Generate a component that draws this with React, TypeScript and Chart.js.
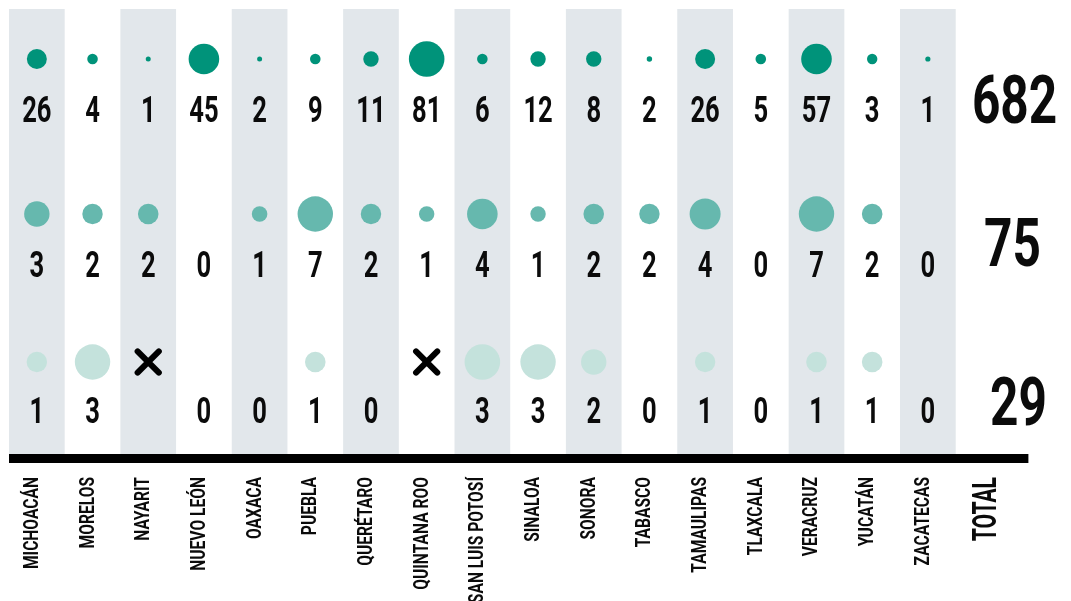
import React, { useEffect, useRef } from "react";
import { Chart, registerables } from "chart.js";

Chart.register(...registerables);

// ---------- data ----------
const STATES = [
  "MICHOACÁN", "MORELOS", "NAYARIT", "NUEVO LEÓN", "OAXACA", "PUEBLA",
  "QUERÉTARO", "QUINTANA ROO", "SAN LUIS POTOSÍ", "SINALOA", "SONORA",
  "TABASCO", "TAMAULIPAS", "TLAXCALA", "VERACRUZ", "YUCATÁN", "ZACATECAS",
];
const TOTAL_LABEL = "TOTAL";

// row values (null = not applicable, marked with a cross)
const ROW1_VALUES = [26, 4, 1, 45, 2, 9, 11, 81, 6, 12, 8, 2, 26, 5, 57, 3, 1];
const ROW2_VALUES = [3, 2, 2, 0, 1, 7, 2, 1, 4, 1, 2, 2, 4, 0, 7, 2, 0];
const ROW3_VALUES = [1, 3, null, 0, 0, 1, 0, null, 3, 3, 2, 0, 1, 0, 1, 1, 0];
const TOTALS = [682, 75, 29];

// bubble magnitudes (radius)
const ROW1_BUBBLE = [10, 5.3, 2.5, 15.3, 2.5, 5.3, 7.7, 17.8, 5.3, 7.7, 7.7, 2.7, 10, 5.3, 15.3, 5.2, 2.6];
const ROW2_BUBBLE = [12.7, 10.2, 10.3, 0, 7.8, 17.7, 10.2, 7.7, 15.3, 7.7, 10.3, 10.2, 15.5, 0, 17.7, 10.3, 0];
const ROW3_BUBBLE = [10.2, 17.7, 0, 0, 0, 10.3, 0, 0, 17.8, 17.7, 12.7, 0, 10.2, 0, 10.3, 10.3, 0];

// ---------- layout / style ----------
const ROW_BUBBLE_Y = [50, 205, 353];
const ROW_LABEL_Y = [113, 268, 414];
const TOTAL_LABEL_Y = [114, 257, 416];
const TOTAL_X_SHIFT = [31, 29, 35];
const ROW_COLORS = ["#00937a", "#66b8ae", "#c4e2dc"];
const BAND_COLOR = "#e2e7eb";
const INK = "#0b0b0b";
const FONT = "Roboto, 'Open Sans', sans-serif";

function bubbleData(sizes: number[], rowIdx: number) {
  const out: any[] = [];
  sizes.forEach((r, i) => {
    if (r > 0) out.push({ x: STATES[i], y: ROW_BUBBLE_Y[rowIdx], r });
  });
  return out;
}

function crossData(values: (number | null)[], rowIdx: number) {
  const out: any[] = [];
  values.forEach((v, i) => {
    if (v === null) out.push({ x: STATES[i], y: ROW_BUBBLE_Y[rowIdx], r: 15 });
  });
  return out;
}

function condensedText(
  ctx: CanvasRenderingContext2D,
  text: string,
  x: number,
  y: number,
  size: number,
  sx: number,
  align: CanvasTextAlign = "center"
) {
  ctx.save();
  ctx.translate(x, y);
  ctx.scale(sx, 1);
  ctx.font = `bold ${size}px ${FONT}`;
  ctx.textAlign = align;
  ctx.textBaseline = "alphabetic";
  ctx.fillStyle = INK;
  ctx.fillText(text, 0, 0);
  ctx.restore();
}

const decorPlugin = {
  id: "decor",
  beforeDatasetsDraw(chart: any) {
    const { ctx, chartArea, scales } = chart;
    const xs = scales.x;
    const w = (chartArea.right - chartArea.left) / (STATES.length + 1);
    ctx.save();
    ctx.fillStyle = BAND_COLOR;
    STATES.forEach((_, i) => {
      if (i % 2 === 0) {
        const cx = xs.getPixelForValue(i);
        ctx.fillRect(cx - w / 2, chartArea.top, w, chartArea.bottom - chartArea.top);
      }
    });
    ctx.restore();
  },
  beforeDatasetDraw(chart: any, args: any) {
    if (args.index === 3) chart.ctx.lineCap = "round";
  },
  afterDatasetDraw(chart: any, args: any) {
    if (args.index === 3) chart.ctx.lineCap = "butt";
  },
  afterDatasetsDraw(chart: any) {
    const { ctx, chartArea, scales } = chart;
    const xs = scales.x;
    const ys = scales.y;

    // baseline rule
    ctx.save();
    ctx.fillStyle = "#000";
    ctx.fillRect(chartArea.left, chartArea.bottom, chartArea.right - chartArea.left + 17, 9);
    ctx.restore();

    // row numbers
    const rows = [ROW1_VALUES, ROW2_VALUES, ROW3_VALUES];
    rows.forEach((vals, r) => {
      const y = ys.getPixelForValue(ROW_LABEL_Y[r]);
      vals.forEach((v, i) => {
        if (v === null) return;
        condensedText(ctx, String(v), xs.getPixelForValue(i), y, 36.5, 0.7);
      });
    });

    // totals
    TOTALS.forEach((t, r) => {
      const totalX = xs.getPixelForValue(STATES.length) + TOTAL_X_SHIFT[r];
      condensedText(ctx, String(t), totalX, ys.getPixelForValue(TOTAL_LABEL_Y[r]), 67, 0.74);
    });

    // category labels (rotated)
    const labelTop = chartArea.bottom + 23;
    STATES.forEach((s, i) => {
      const x = xs.getPixelForValue(i) + 1;
      ctx.save();
      ctx.translate(x, labelTop);
      ctx.rotate(-Math.PI / 2);
      ctx.scale(0.8, 1);
      ctx.font = `bold 19.5px ${FONT}`;
      ctx.textAlign = "right";
      ctx.textBaseline = "alphabetic";
      ctx.fillStyle = INK;
      ctx.fillText(s, 0, 0);
      ctx.restore();
    });
    ctx.save();
    ctx.translate(xs.getPixelForValue(STATES.length) + 12, labelTop);
    ctx.rotate(-Math.PI / 2);
    ctx.scale(0.62, 1);
    ctx.font = `bold 34px ${FONT}`;
    ctx.textAlign = "right";
    ctx.textBaseline = "alphabetic";
    ctx.fillStyle = INK;
    ctx.fillText(TOTAL_LABEL, 0, 0);
    ctx.restore();
  },
};

export default function App() {
  const ref = useRef<HTMLCanvasElement | null>(null);

  useEffect(() => {
    if (!ref.current) return;
    const chart = new Chart(ref.current, {
      type: "bubble",
      data: {
        labels: [...STATES, TOTAL_LABEL],
        datasets: [
          {
            data: bubbleData(ROW1_BUBBLE, 0),
            backgroundColor: ROW_COLORS[0],
            borderWidth: 0,
          },
          {
            data: bubbleData(ROW2_BUBBLE, 1),
            backgroundColor: ROW_COLORS[1],
            borderWidth: 0,
          },
          {
            data: bubbleData(ROW3_BUBBLE, 2),
            backgroundColor: ROW_COLORS[2],
            borderWidth: 0,
          },
          {
            data: crossData(ROW3_VALUES, 2),
            pointStyle: "crossRot",
            borderColor: "#000",
            backgroundColor: "#000",
            borderWidth: 6,
          },
        ],
      } as any,
      options: {
        responsive: false,
        animation: false,
        clip: false,
        layout: { autoPadding: false, padding: { left: 9, top: 9, right: 59.6, bottom: 147 } },
        plugins: {
          legend: { display: false },
          tooltip: { enabled: false },
        },
        scales: {
          x: { type: "category", offset: true, display: false },
          y: { type: "linear", min: 0, max: 445, reverse: true, display: false },
        },
      } as any,
      plugins: [decorPlugin],
    });
    return () => chart.destroy();
  }, []);

  return (
    <div style={{ position: "absolute", left: 0, top: 0, width: 1071, height: 601, background: "#fff" }}>
      <canvas ref={ref} width={1071} height={601} style={{ display: "block" }} />
    </div>
  );
}
